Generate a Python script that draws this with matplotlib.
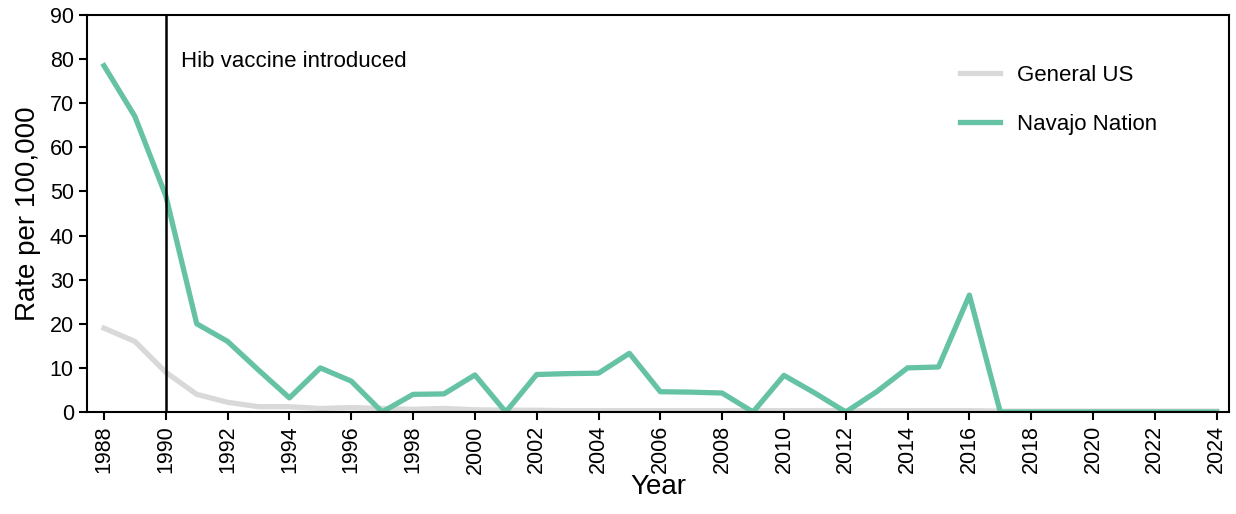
import matplotlib.pyplot as plt

plt.rcParams['font.family'] = ['Liberation Sans', 'DejaVu Sans']

years = list(range(1988, 2025))
navajo = [78.5, 67, 49, 20, 16, 9.5, 3.2, 10, 7, 0, 4, 4.1, 8.4, 0, 8.5, 8.7, 8.8,
          13.3, 4.6, 4.5, 4.3, 0, 8.3, 4.3, 0, 4.6, 10, 10.2, 26.5,
          0, 0, 0, 0, 0, 0, 0, 0]
general_us = [19, 16, 9, 4, 2.2, 1.2, 1.2, 0.8, 1.0, 0.8, 0.6, 0.8, 0.5, 0.4, 0.4, 0.3, 0.3,
              0.3, 0.3, 0.3, 0.3, 0.3, 0.3, 0.3, 0.3, 0.3, 0.3, 0.3, 0.3,
              0.2, 0.2, 0.2, 0.2, 0.2, 0.2, 0.2, 0.2]
vaccine_year = 1990

fig = plt.figure(figsize=(12.36, 5.14), dpi=100)
ax = fig.add_axes([87 / 1236, 1 - 412 / 514, (1229 - 87) / 1236, (412 - 15) / 514])

ax.plot(years, general_us, color='#d9d9d9', lw=3.8, label='General US')
ax.plot(years, navajo, color='#66c2a5', lw=3.8, label='Navajo Nation')
ax.axvline(vaccine_year, color='black', lw=1.8)
ax.text(vaccine_year + 0.5, 79.5, 'Hib vaccine introduced', fontsize=16, va='center')

ax.set_xlim(1987.45, 2024.4)
ax.set_ylim(0, 90)
ax.set_xticks(range(1988, 2025, 2))
ax.set_xticklabels([str(y) for y in range(1988, 2025, 2)], rotation=90, fontsize=15.5)
ax.set_yticks(range(0, 91, 10))
ax.tick_params(axis='y', labelsize=15.5)
ax.tick_params(length=6, width=1.5)
for s in ax.spines.values():
    s.set_linewidth(1.5)
ax.set_xlabel('Year', fontsize=20, labelpad=0)
ax.set_ylabel('Rate per 100,000', fontsize=20, labelpad=6)
ax.legend(loc='upper right', frameon=False, fontsize=16, handlelength=1.8,
          labelspacing=1.25, bbox_to_anchor=(0.955, 0.925))

fig.savefig('out.png', dpi=100)
